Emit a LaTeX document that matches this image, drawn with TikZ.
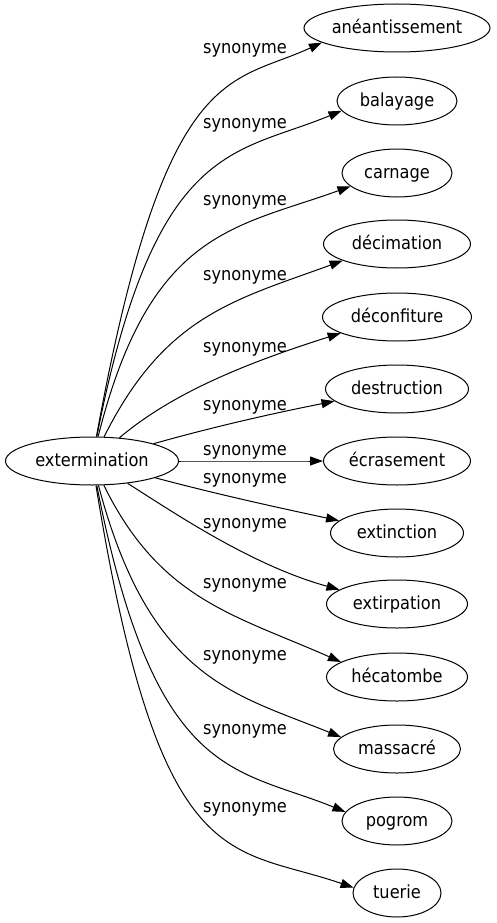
\documentclass[tikz,border=0pt]{standalone}
\usepackage{fontspec}
\setmainfont{DejaVu Sans}[FakeStretch=0.9]
\usetikzlibrary{arrows.meta,shapes.geometric}

\begin{document}
\begin{tikzpicture}[x=1pt,y=-1pt,
  mot/.style={draw,ellipse,line width=1pt,inner sep=0pt,minimum height=48pt,
    text height=13.5pt,text depth=2pt,font=\fontsize{18}{20}\selectfont},
  etiq/.style={inner sep=0pt,text height=13.5pt,text depth=2pt,
    font=\fontsize{18}{20}\selectfont},
  fleche/.style={line width=1pt,-{Triangle[length=13pt,width=9pt]}}]

\useasboundingbox (0,0) rectangle (496,923);

% Noeud central
\node[mot,minimum width=173pt] (ext) at (92,461) {extermination};

% Synonymes a droite
\foreach \nom/\texte/\y/\w in {ane/anéantissement/28/186, bal/balayage/101/120,
  car/carnage/173/110, dec/décimation/244/147, dco/déconfiture/317/149,
  des/destruction/389/143, ecr/écrasement/461/147, exn/extinction/533/133,
  exp/extirpation/604/141, hec/hécatombe/677/141, mas/massacré/749/127,
  pog/pogrom/821/110, tue/tuerie/893/88}
  \node[mot,minimum width=\w pt] (\nom) at (397,\y) {\texte};

% Fleches et etiquettes
\foreach \nom/\xb/\yb/\xc/\yc/\ang/\yl in {ane/165/60/230/85/191/48,
  bal/155/140/235/155/190/123, car/150/230/235/228/196/200,
  dec/165/315/235/300/197/275, dco/170/395/240/365/196/347,
  des/220/425/280/412/191/405, ecr/220/461/280/461/180/450,
  exn/220/495/280/508/168/478, exp/170/510/250/565/166/523,
  hec/160/600/235/615/165/583, mas/150/680/235/694/168/655,
  pog/155/782/235/767/170/729, tue/160/880/230/845/173/807}{
  \draw[fleche] (ext) .. controls (\xb,\yb) and (\xc,\yc) .. (\nom.\ang);
  \node[etiq] (l\nom) at (245,\yl) {synonyme};
}

\end{tikzpicture}
\end{document}
